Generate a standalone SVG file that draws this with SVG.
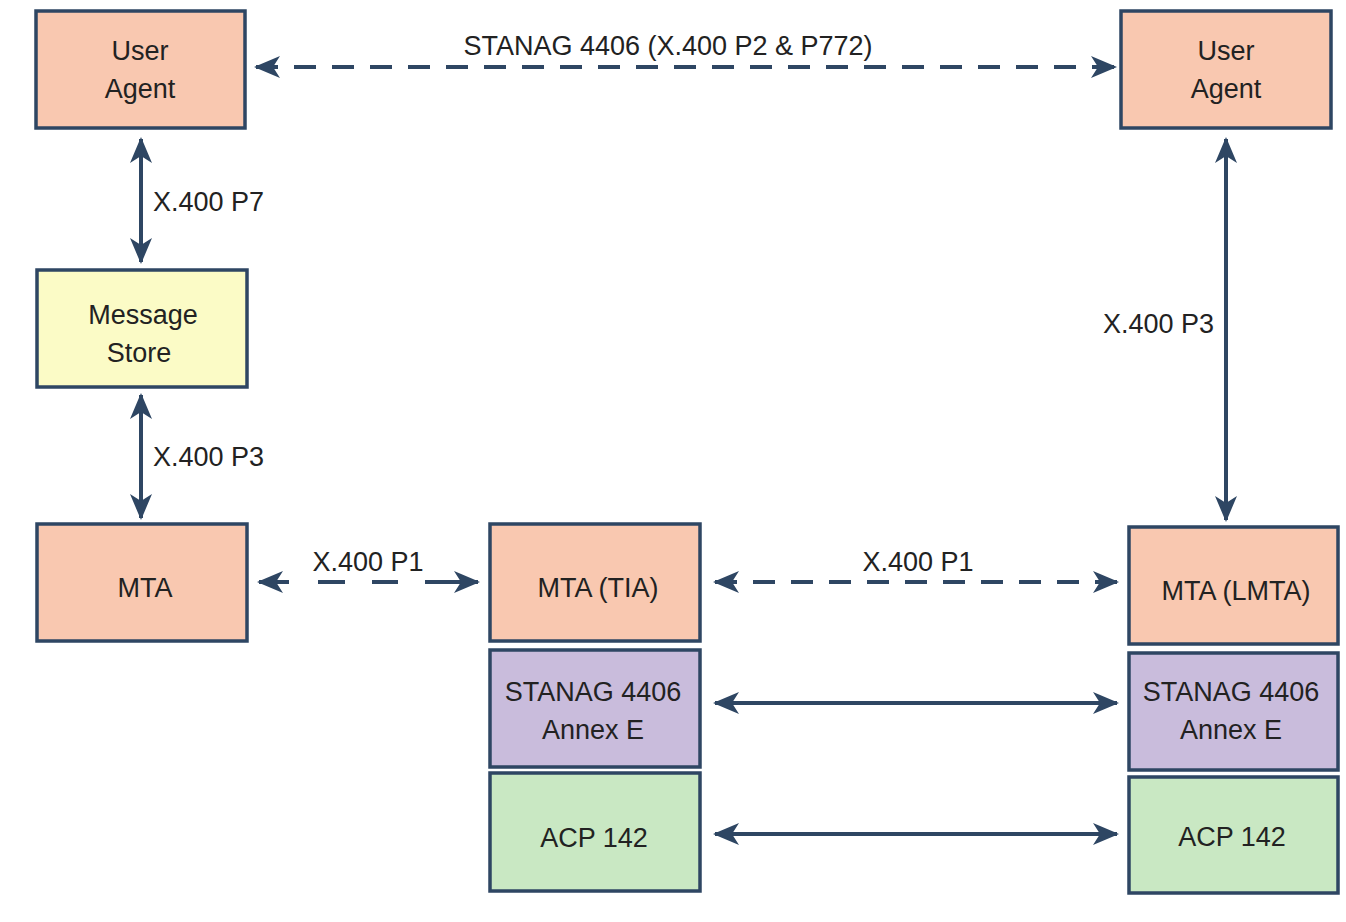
<svg xmlns="http://www.w3.org/2000/svg" width="1346" height="922" viewBox="0 0 1346 922">
<style>
.box{stroke:#2e4663;stroke-width:3.5}
.ua{fill:#f9c8b0}.ms{fill:#fbfbc6}.st{fill:#c9bcdc}.acp{fill:#c9e8c3}
text{font-family:"Liberation Sans",Arial,sans-serif;font-size:27px;fill:#222;text-anchor:middle}
.lbl{text-anchor:start}
.c{stroke:#2e4663;stroke-width:4;fill:none;marker-start:url(#ah);marker-end:url(#ah)}
.d{stroke-dasharray:22 16}
</style>
<defs>
<marker id="ah" markerUnits="userSpaceOnUse" markerWidth="30" markerHeight="30" viewBox="-26 -13 30 26" refX="0" refY="0" orient="auto-start-reverse">
<path d="M2,0 L-24,-11 L-17,0 L-24,11 Z" fill="#2e4663"/>
</marker>
</defs>
<rect width="1346" height="922" fill="#fff"/>
<g id="ua-left"><rect class="box ua" x="36" y="11" width="209" height="117"/><text x="140" y="60">User</text><text x="140" y="98">Agent</text></g>
<g id="ua-right"><rect class="box ua" x="1121" y="11" width="210" height="117"/><text x="1226" y="60">User</text><text x="1226" y="98">Agent</text></g>
<g id="ms"><rect class="box ms" x="37" y="270" width="210" height="117"/><text x="143" y="324">Message</text><text x="139" y="362">Store</text></g>
<g id="mta"><rect class="box ua" x="37" y="524" width="210" height="117"/><text x="145" y="597">MTA</text></g>
<g id="mta-tia"><rect class="box ua" x="490" y="524" width="210" height="117"/><text x="598" y="597">MTA (TIA)</text></g>
<g id="st-tia"><rect class="box st" x="490" y="650" width="210" height="117"/><text x="593" y="701">STANAG 4406</text><text x="593" y="739">Annex E</text></g>
<g id="acp-tia"><rect class="box acp" x="490" y="773" width="210" height="118"/><text x="594" y="847">ACP 142</text></g>
<g id="mta-lmta"><rect class="box ua" x="1129" y="527" width="209" height="117"/><text x="1236" y="600">MTA (LMTA)</text></g>
<g id="st-lmta"><rect class="box st" x="1129" y="653" width="209" height="117"/><text x="1231" y="701">STANAG 4406</text><text x="1231" y="739">Annex E</text></g>
<g id="acp-lmta"><rect class="box acp" x="1129" y="777" width="209" height="116"/><text x="1232" y="846">ACP 142</text></g>
<g id="connectors">
<line class="c d" x1="256" y1="67" x2="1115" y2="67"/>
<text x="668" y="55">STANAG 4406 (X.400 P2 &amp; P772)</text>
<line class="c" x1="141" y1="139" x2="141" y2="262"/>
<text class="lbl" x="153" y="211">X.400 P7</text>
<line class="c" x1="141" y1="395" x2="141" y2="518"/>
<text class="lbl" x="153" y="466">X.400 P3</text>
<line class="c" x1="259" y1="582" x2="478" y2="582" style="stroke-dasharray:30 29 27 27 26 27 60"/>
<text x="368" y="571">X.400 P1</text>
<line class="c d" x1="715" y1="582" x2="1117" y2="582"/>
<text x="918" y="571">X.400 P1</text>
<line class="c" x1="1226" y1="139" x2="1226" y2="520"/>
<text class="lbl" x="1103" y="333">X.400 P3</text>
<line class="c" x1="715" y1="703" x2="1117" y2="703"/>
<line class="c" x1="715" y1="834" x2="1117" y2="834"/>
</g>
</svg>
